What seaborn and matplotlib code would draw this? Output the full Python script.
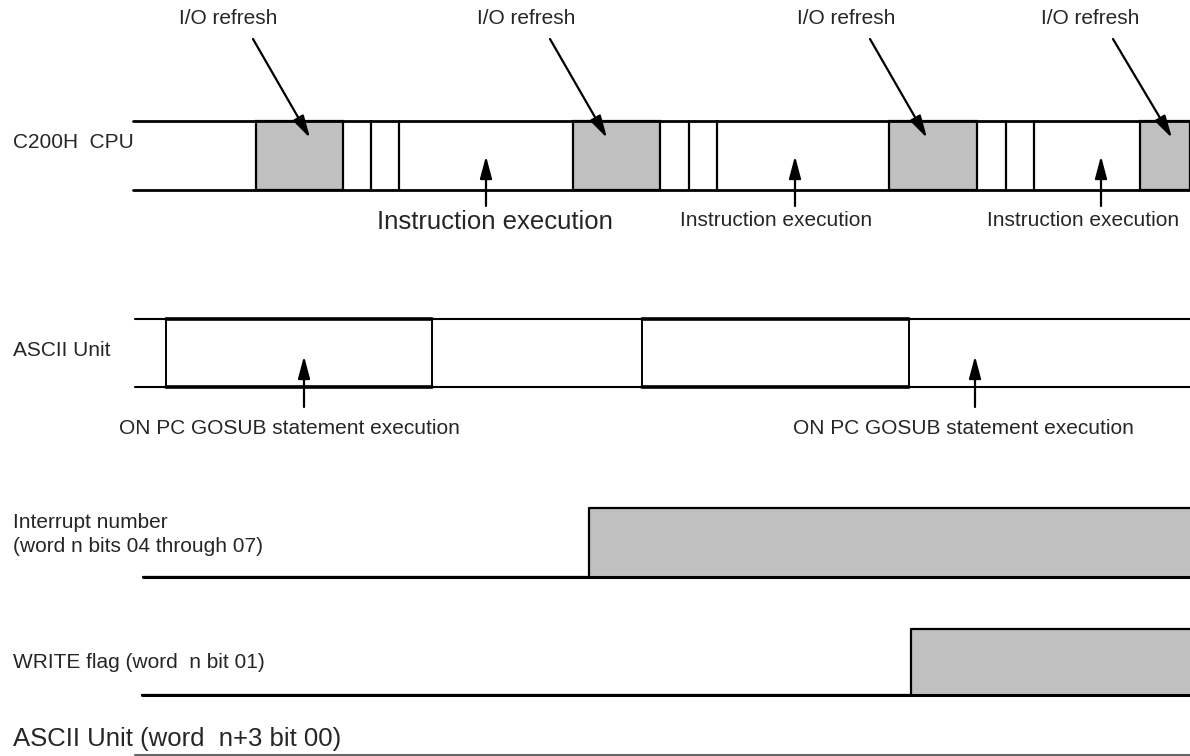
import pandas as pd
import seaborn as sns
import matplotlib.pyplot as plt
from matplotlib.patches import Rectangle

# timing positions (x in px along the time axis)
cpu_refresh_start = [256, 573, 889, 1140]
cpu_refresh_end = [343, 660, 977, 1190]
cpu_marks = [371, 399, 689, 717, 1006, 1034]
cpu_exec_x = [486, 795, 1101]
exec_label_x = [495, 776, 1083]
io_label_x = [228, 526, 846, 1090]
io_arrow_tail = [253, 550, 870, 1113]
io_arrow_tip = [310, 607, 927, 1172]
ascii_edges = [166, 432, 642, 909]
ascii_busy = [(166, 432), (642, 909)]
gosub_x = [304, 975]
gosub_label_x = [289, 963]
interrupt_on = 589
write_on = 911
x_end = 1190

sns.set_theme(style="white")
plt.rcParams['font.family'] = ['Liberation Sans', 'DejaVu Sans']

fig = plt.figure(figsize=(11.9, 7.56), dpi=100)
ax = fig.add_axes([0, 0, 1, 1])

gray = '#c0c0c0'
small = 15
big = 18.5
lab_x = 13

def arrow(x0, y0, x1, y1):
    ax.annotate('', xy=(x1, y1), xytext=(x0, y0),
                arrowprops=dict(arrowstyle='-|>,head_length=0.75,head_width=0.2',
                                lw=1.6, color='black', mutation_scale=18,
                                shrinkA=0, shrinkB=0))

# ---- C200H CPU ----
cpu_top, cpu_bot = 121, 190
for s, e in zip(cpu_refresh_start, cpu_refresh_end):
    ax.add_patch(Rectangle((s, cpu_top), e - s, cpu_bot - cpu_top,
                           facecolor=gray, edgecolor='black', lw=1.6))
for x in cpu_marks:
    ax.plot([x, x], [cpu_top, cpu_bot], color='black', lw=1.6)
ax.plot([133, x_end], [cpu_top, cpu_top], color='black', lw=2)
ax.plot([133, x_end], [cpu_bot, cpu_bot], color='black', lw=2)
ax.text(lab_x, 143, 'C200H  CPU', fontsize=small, va='center')

for lx, t0, t1 in zip(io_label_x, io_arrow_tail, io_arrow_tip):
    ax.text(lx, 19, 'I/O refresh', fontsize=small, ha='center', va='center')
    arrow(t0, 39, t1, 138)

for x in cpu_exec_x:
    arrow(x, 206, x, 156)
ax.text(exec_label_x[0], 222, 'Instruction execution', fontsize=big,
        ha='center', va='center')
for lx in exec_label_x[1:]:
    ax.text(lx, 220, 'Instruction execution', fontsize=small,
            ha='center', va='center')

# ---- ASCII Unit ----
a_top, a_bot = 319, 387
ax.plot([135, x_end], [a_top, a_top], color='black', lw=1.5)
ax.plot([135, x_end], [a_bot, a_bot], color='black', lw=1.5)
for s, e in ascii_busy:
    ax.plot([s, e], [a_top, a_top], color='black', lw=2.6)
    ax.plot([s, e], [a_bot, a_bot], color='black', lw=2.6)
for x in ascii_edges:
    ax.plot([x, x], [a_top, a_bot], color='black', lw=1.4)
ax.text(lab_x, 350, 'ASCII Unit', fontsize=small, va='center')
for x, lx in zip(gosub_x, gosub_label_x):
    arrow(x, 407, x, 356)
    ax.text(lx, 428, 'ON PC GOSUB statement execution', fontsize=small,
            ha='center', va='center')

# ---- Interrupt number / WRITE flag waveforms ----
intr_top = 508
intr = pd.DataFrame({'x': [143, interrupt_on, interrupt_on, x_end],
                     'y': [577, 577, intr_top, intr_top]})
ax.add_patch(Rectangle((interrupt_on, intr_top), x_end - interrupt_on,
                       577 - intr_top, facecolor=gray, edgecolor='none'))
sns.lineplot(data=intr, x='x', y='y', ax=ax, color='black', lw=1.6,
             estimator=None, sort=False)
ax.plot([143, x_end], [577, 577], color='black', lw=2.2)
ax.text(lab_x, 522, 'Interrupt number', fontsize=small, va='center')
ax.text(lab_x, 546, '(word n bits 04 through 07)', fontsize=small, va='center')

wr = pd.DataFrame({'x': [142, write_on, write_on, x_end],
                   'y': [695, 695, 629, 629]})
ax.add_patch(Rectangle((write_on, 629), x_end - write_on, 66,
                       facecolor=gray, edgecolor='none'))
sns.lineplot(data=wr, x='x', y='y', ax=ax, color='black', lw=1.6,
             estimator=None, sort=False)
ax.plot([142, x_end], [695, 695], color='black', lw=2.2)
ax.text(lab_x, 663, 'WRITE flag (word  n bit 01)', fontsize=small, va='center')

ax.text(lab_x, 739, 'ASCII Unit (word  n+3 bit 00)', fontsize=big, va='center')
ax.plot([135, x_end], [755, 755], color='#666666', lw=1.5)

ax.set_xlim(0, 1190)
ax.set_ylim(756, 0)
ax.axis('off')
fig.savefig('out.png', dpi=100)
